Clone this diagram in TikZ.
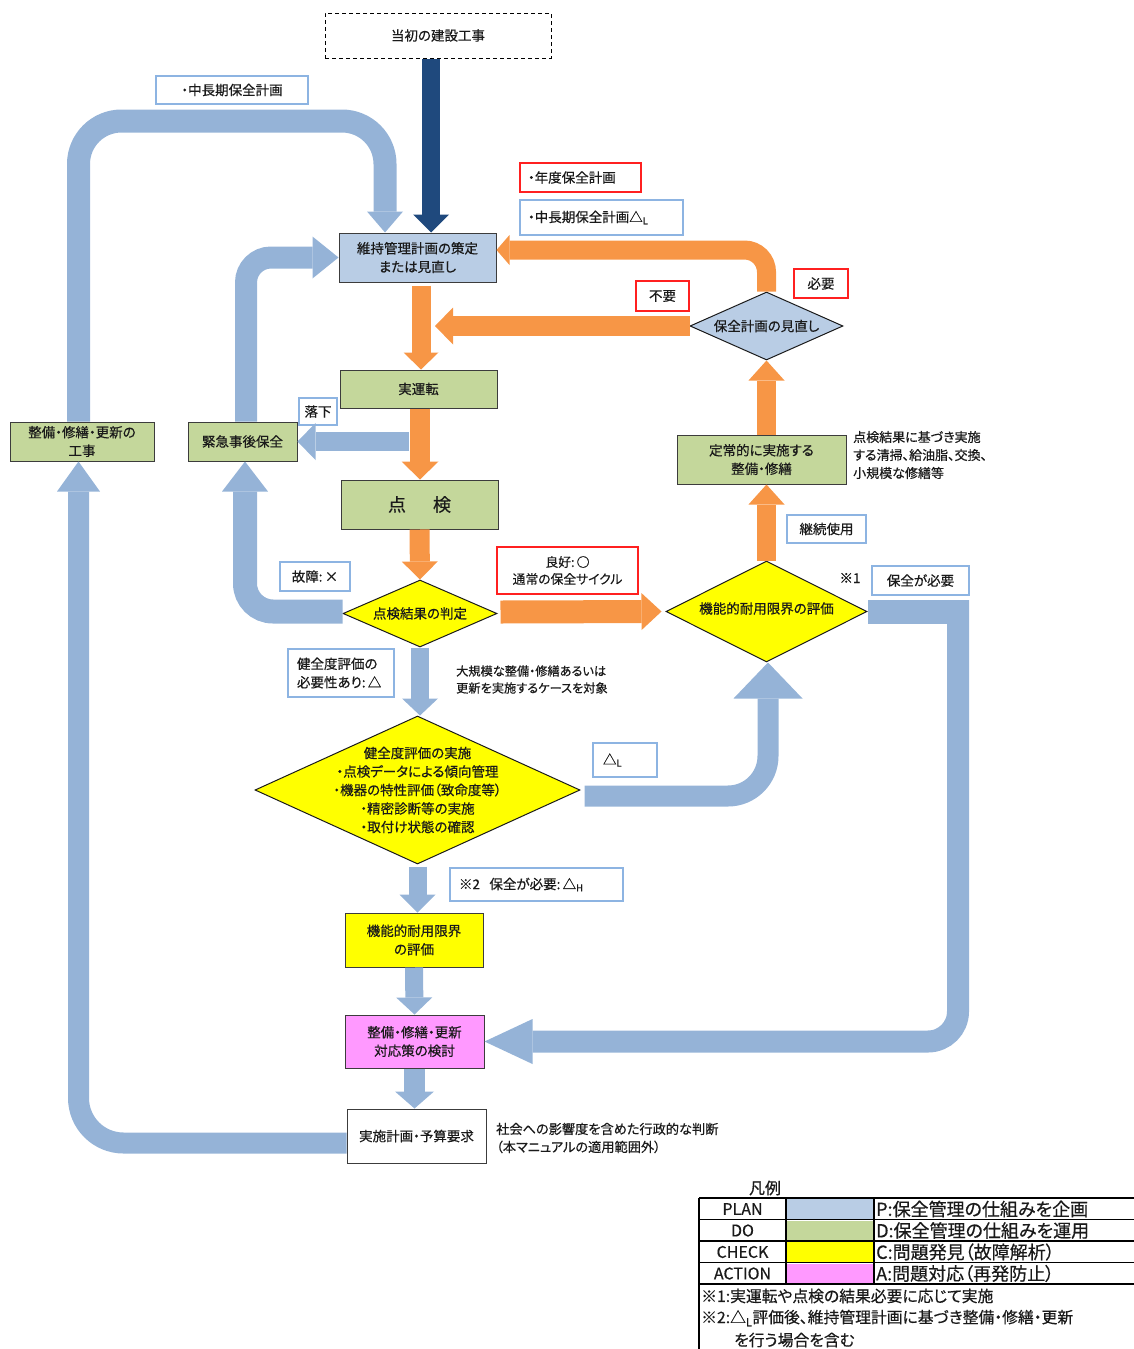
\documentclass[tikz,border=0pt]{standalone}
\usepackage{fontspec}
\setmainfont{Noto Sans CJK JP}[RawFeature=+palt, FakeBold=0.5]
\usetikzlibrary{arrows.meta,shapes.geometric}
\definecolor{planC}{HTML}{B9CDE5}
\definecolor{doC}{HTML}{C4D79B}
\definecolor{chkC}{HTML}{FFFF00}
\definecolor{actC}{HTML}{FF99FF}
\definecolor{arrB}{HTML}{95B3D7}
\definecolor{arrO}{HTML}{F79646}
\definecolor{navy}{HTML}{1F497D}
\definecolor{lblue}{HTML}{8DB4E2}
\definecolor{lred}{HTML}{FF2020}
\definecolor{ink}{HTML}{1A1A1A}
\tikzset{
 base/.style={font=\fontsize{13.5}{18.5}\selectfont, text=ink},
 box/.style={base, draw=ink!85, line width=1pt, inner sep=0pt, align=center},
 dia/.style={diamond, draw=ink, line width=1pt, inner sep=0pt},
 lb/.style={base, draw=lblue, line width=1.2pt, fill=white, inner xsep=8pt, inner ysep=0pt, align=left},
 lr/.style={lb, draw=lred},
 txt/.style={base, inner sep=0pt, align=left},
 fat/.style n args={3}{line width=#1, -{Triangle[width=#2, length=#3, line width=0pt 0 0]}},
 leg/.style={inner sep=0pt, text=ink, font=\fontsize{16}{18}\selectfont},
 legd/.style={inner sep=0pt, text=ink, anchor=west, font=\fontsize{18}{19}\selectfont},
 legn/.style={inner sep=0pt, text=ink, anchor=west, font=\fontsize{15.8}{18}\selectfont},
}
\begin{document}
\begin{tikzpicture}[x=1pt,y=-1pt]
\useasboundingbox (0,0) rectangle (1134,1349);

% ---------- main nodes ----------
\node[box, draw=black, dash pattern=on 4pt off 3pt, minimum width=226pt, minimum height=45pt] (init) at (438,35.5) {当初の建設工事};
\node[box, fill=planC, minimum width=157pt, minimum height=49pt] (plan) at (417.5,257.5) {維持管理計画の策定\\または見直し};
\node[box, fill=doC, minimum width=157pt, minimum height=38pt] (run) at (418.5,389) {実運転};
\node[box, fill=doC, minimum width=157pt, minimum height=49pt, font=\fontsize{18}{22}\selectfont] (insp) at (419.5,504.5) {点\hspace{1.5em}検};
\node[dia, fill=chkC, minimum width=154pt, minimum height=67pt] (judge) at (420,613.5) {};
\node[txt] (judgeT) at (judge) {点検結果の判定};
\node[dia, fill=planC, minimum width=153pt, minimum height=68pt] (review) at (766.5,326) {};
\node[txt] (reviewT) at (review) {保全計画の見直し};
\node[dia, fill=chkC, minimum width=201pt, minimum height=101pt] (func) at (766.5,611.5) {};
\node[txt] (funcT) at ([yshift=3pt]func.center) {機能的耐用限界の評価};
\node[box, fill=doC, minimum width=169pt, minimum height=49pt] (teiji) at (761.5,459.5) {定常的に実施する\\整備・修繕};
\node[dia, fill=chkC, minimum width=325pt, minimum height=148pt] (health) at (417.5,790) {};
\node[txt, align=center] (healthT) at (health) {健全度評価の実施\\・点検データによる傾向管理\\・機器の特性評価（致命度等）\\・精密診断等の実施\\・取付け状態の確認};
\node[box, fill=chkC, minimum width=138pt, minimum height=54pt] (funcbox) at (414,940) {機能的耐用限界\\の評価};
\node[box, fill=actC, minimum width=139pt, minimum height=53pt] (taiou) at (414.5,1041.5) {整備・修繕・更新\\対応策の検討};
\node[box, fill=white, minimum width=139pt, minimum height=54pt] (exec) at (416.5,1136) {実施計画・予算要求};
\node[box, fill=doC, minimum width=144pt, minimum height=39pt] (work) at (82,441.5) {整備・修繕・更新の\\工事};
\node[box, fill=doC, minimum width=109pt, minimum height=39pt] (emer) at (242.5,441.5) {緊急事後保全};

% ---------- labels ----------
\node[lb, minimum width=152pt, minimum height=28pt, align=center] (lMid) at (232,90) {・中長期保全計画};
\node[lr, text width=105pt, minimum height=29pt] (lYear) at (580.5,177.5) {・年度保全計画};
\node[lb, text width=147pt, minimum height=35pt] (lMidL) at (601.5,217.5) {・中長期保全計画△\textsubscript{L}};
\node[lr, minimum width=53pt, minimum height=30pt, inner xsep=0pt, align=center] (lNo) at (662.5,296) {不要};
\node[lr, minimum width=54pt, minimum height=29pt, inner xsep=0pt, align=center] (lYes) at (821,283.5) {必要};
\node[lb, minimum width=38pt, minimum height=27pt, inner xsep=0pt, align=center] (lFall) at (318,411.5) {落下};
\node[lb, minimum width=70pt, minimum height=29pt, inner xsep=0pt, align=center] (lFail) at (315,576.5) {故障:\,×};
\node[lr, minimum width=141pt, minimum height=47pt, inner xsep=0pt, align=center, font=\fontsize{12.8}{17}\selectfont] (lGood) at (567.5,570.5) {良好:\,○\\通常の保全サイクル};
\node[lb, minimum width=79pt, minimum height=28pt, inner xsep=0pt, align=center] (lCont) at (826.5,529) {継続使用};
\node[txt] (n1) at (850,578) {※1};
\node[lb, minimum width=97pt, minimum height=29pt, inner xsep=0pt, align=center] (lNeed) at (920.5,580.5) {保全が必要};
\node[lb, text width=88pt, minimum height=48pt, inner xsep=9pt] (lHealth) at (341,673) {健全度評価の\\必要性あり:\,△};
\node[lb, text width=44pt, minimum height=34pt, inner xsep=10pt] (lDL) at (625,760) {△\textsubscript{L}};
\node[lb, text width=155pt, minimum height=33pt, inner xsep=9pt] (lDH) at (536.5,884.5) {※2\hspace{0.7em}保全が必要:\,△\textsubscript{H}};

% ---------- free texts ----------
\node[txt, anchor=west, font=\fontsize{12.2}{17}\selectfont] (tLarge) at (456,679.5) {大規模な整備・修繕あるいは\\更新を実施するケースを対象};
\node[txt, anchor=west, font=\fontsize{13}{18}\selectfont] (tSmall) at (853,455) {点検結果に基づき実施\\する清掃、給油脂、交換、\\小規模な修繕等};
\node[txt, anchor=west, font=\fontsize{13.2}{18}\selectfont] (tSoc) at (496,1138) {社会への影響度を含めた行政的な判断\\（本マニュアルの適用範囲外）};

% ---------- arrows: navy ----------
\draw[fat={18pt}{36pt}{18pt}, color=navy] ([xshift=-7pt]init.south) -- ([xshift=13.5pt]plan.north);

% ---------- arrows: blue ----------
\draw[fat={23pt}{36pt}{21pt}, color=arrB, rounded corners=43pt] ([xshift=-3.5pt]work.north) |- (232,121) -| ([xshift=-32.5pt]plan.north);
\draw[fat={22pt}{42pt}{26pt}, color=arrB, rounded corners=25pt] ([xshift=3.5pt]emer.north) |- (plan.west);
\coordinate (fallS) at (409,441.5);
\draw[fat={19pt}{37pt}{18pt}, color=arrB] (fallS) -- (emer.east);
\draw[fat={24pt}{46pt}{30pt}, color=arrB, rounded corners=28pt] ([yshift=2pt]judge.west) -| ([xshift=2.5pt]emer.south);
\draw[fat={21pt}{43pt}{30pt}, color=arrB, rounded corners=45pt] ([yshift=-7pt]exec.west) -| ([xshift=-3.5pt]work.south);
\coordinate (rcA) at (969,624);
\coordinate (rcB) at (958,600);
\fill[arrB] ([yshift=12pt]func.east) rectangle (rcA);
\draw[fat={22pt}{45pt}{48pt}, color=arrB, rounded corners=30pt] (rcB) |- (taiou.east);
\draw[fat={21pt}{69pt}{36pt}, color=arrB, rounded corners=40pt] ([xshift=4pt,yshift=-6pt]health.east) -| ([xshift=1.5pt]func.south);
\draw[fat={18pt}{36pt}{17pt}, color=arrB] (judge.south) -- (judge.south |- health.north);
\draw[fat={18pt}{36pt}{18pt}, color=arrB] ([yshift=-2pt]health.south) -- (health.south |- funcbox.north);
\draw[fat={18pt}{36pt}{17pt}, color=arrB] (funcbox.south) -- (taiou.north);
\draw[fat={21pt}{39pt}{17pt}, color=arrB] (taiou.south) -- (taiou.south |- exec.north);

% ---------- arrows: orange ----------
\draw[fat={19pt}{35pt}{17pt}, color=arrO] ([xshift=3.5pt,yshift=-3pt]plan.south) -- ([xshift=2.5pt]run.north);
\draw[fat={20pt}{37pt}{18pt}, color=arrO] ([xshift=1.5pt]run.south) -- ([xshift=0.5pt]insp.north);
\draw[fat={20pt}{36pt}{18pt}, color=arrO] (insp.south) -- (judge.north);
\draw[fat={23pt}{37pt}{20pt}, color=arrO] ([xshift=3pt,yshift=1.5pt]judge.east) -- ([xshift=-4pt]func.west);
\draw[fat={19pt}{36pt}{20pt}, color=arrO] (func.north) -- (func.north |- teiji.south);
\draw[fat={19pt}{36pt}{20pt}, color=arrO] (func.north |- teiji.north) -- (review.south);
\coordinate (noTip) at (435,326);
\draw[fat={20pt}{37pt}{18pt}, color=arrO] (review.west) -- (noTip);
\draw[fat={19pt}{30pt}{13pt}, color=arrO, rounded corners=22pt] (review.north) |- ([yshift=7.5pt]plan.east);

% ---------- legend ----------
\node[leg] (legT) at (765,1188) {凡例};
\fill[planC] (787,1199) rectangle (873,1218.5);
\fill[doC] (787,1220.5) rectangle (873,1240);
\fill[chkC] (787,1242) rectangle (873,1261.5);
\fill[actC] (787,1263.5) rectangle (873,1283);
\foreach \yy in {1198,1219.5,1241,1262.5,1284} \draw[line width=1.5pt] (699,\yy) -- (1134,\yy);
\draw[line width=1.5pt] (699,1198) -- (699,1349);
\draw[line width=1.5pt] (786,1198) -- (786,1284);
\draw[line width=1.5pt] (874,1198) -- (874,1284);
\node[leg] (legP) at (742.5,1209) {PLAN};
\node[leg] (legD) at (742.5,1230.5) {DO};
\node[leg] (legC) at (742.5,1252) {CHECK};
\node[leg] (legA) at (742.5,1273.5) {ACTION};
\node[legd] (legPd) at (876,1209) {P:保全管理の仕組みを企画};
\node[legd] (legDd) at (876,1230.5) {D:保全管理の仕組みを運用};
\node[legd] (legCd) at (876,1252) {C:問題発見（故障解析）};
\node[legd] (legAd) at (876,1273.5) {A:問題対応（再発防止）};
\node[legn] (note1) at (701,1296) {※1:実運転や点検の結果必要に応じて実施};
\node[legn] (note2) at (701,1318) {※2:△\textsubscript{L}評価後、維持管理計画に基づき整備・修繕・更新};
\node[legn] (note3) at (734,1340) {を行う場合を含む};
\end{tikzpicture}
\end{document}
